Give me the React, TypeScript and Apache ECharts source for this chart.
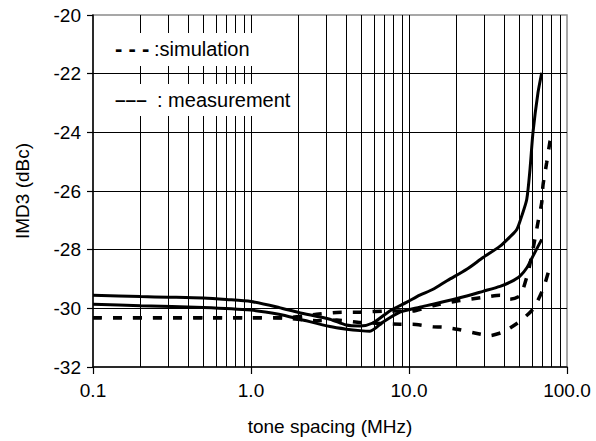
import React, { useEffect, useRef } from "react";
import * as echarts from "echarts";

const FONT = "'Liberation Sans', Arial, sans-serif";

const xMin = 0.1;
const xMax = 100;
const yMin = -32;
const yMax = -20;
const yStep = 2;

const xTickValues = [0.1, 1, 10, 100];
const xTickLabels = ["0.1", "1.0", "10.0", "100.0"];

// vertical gridlines (log decades)
const xGridValues = [
  0.2, 0.3, 0.4, 0.5, 0.6, 0.7, 0.8, 0.9, 1,
  2, 3, 4, 5, 6, 7, 8, 9, 10,
  20, 30, 40, 50, 60, 70, 80, 90,
];

// measurement, curve rising steeply to -22
const measHigh: [number, number][] = [
  [0.1, -29.55], [0.2, -29.6], [0.3, -29.62], [0.5, -29.65], [0.7, -29.7],
  [1.0, -29.77], [1.5, -29.97], [2.0, -30.14], [3.16, -30.37], [4.0, -30.57],
  [4.9, -30.6], [5.9, -30.5], [7.6, -30.08], [9.7, -29.79], [11.7, -29.55],
  [14.2, -29.35], [17.5, -29.05], [23.2, -28.67], [29.4, -28.27], [37.7, -27.88],
  [43.6, -27.56], [48.1, -27.31], [51.7, -26.85], [55.6, -26.29], [58.3, -25.27],
  [60.9, -24.01], [65.5, -22.65], [69.2, -21.97],
];

// measurement, curve ending near -27.6
const measLow: [number, number][] = [
  [0.1, -29.86], [0.2, -29.91], [0.5, -29.97], [1.0, -30.06], [1.5, -30.2],
  [2.04, -30.37], [3.16, -30.62], [4.03, -30.71], [4.9, -30.76], [5.66, -30.78],
  [6.84, -30.47], [8.77, -30.13], [11.7, -29.96], [14.2, -29.86], [23.2, -29.58],
  [29.4, -29.42], [37.7, -29.25], [44, -29.1], [50.4, -28.9], [56, -28.6],
  [60.9, -28.22], [69.2, -27.65],
];

// simulation, curve rising to about -24.2
const simHigh: [number, number][] = [
  [0.1, -30.32], [1.0, -30.32], [1.6, -30.32], [2.2, -30.26], [2.6, -30.2],
  [3.49, -30.14], [4.9, -30.13], [7.58, -30.09], [10.2, -30.1], [14.2, -29.91],
  [20.1, -29.75], [29.4, -29.63], [37.7, -29.55], [43.6, -29.69], [50.0, -29.59],
  [52.7, -29.35], [56.7, -28.77], [60.9, -27.99], [65.5, -27.07], [69.2, -26.39],
  [70.5, -25.8], [74.4, -25.03], [78.0, -24.31], [79.2, -24.18],
];

// simulation, curve with minimum near -30.9
const simLow: [number, number][] = [
  [0.1, -30.32], [1.0, -30.32], [1.6, -30.33], [2.6, -30.42], [3.49, -30.4],
  [4.9, -30.48], [8.8, -30.54], [10.5, -30.54], [14.2, -30.63], [16.4, -30.64],
  [20.1, -30.71], [26.0, -30.84], [32.6, -30.93], [39.4, -30.81], [43.6, -30.67],
  [50.4, -30.44], [60.9, -30.03], [70.5, -29.35], [76.9, -28.7], [78.0, -28.6],
];

const legendSimMark = "- - -";
const legendSimText = ":simulation";
const legendMeasMark = "–––";
const legendMeasText = ": measurement";
const xName = "tone spacing (MHz)";
const yName = "IMD3 (dBc)";

export default function App() {
  const ref = useRef<HTMLDivElement>(null);
  useEffect(() => {
    const chart = echarts.init(ref.current!, null, { renderer: "svg" });
    const solid = (data: [number, number][]) => ({
      type: "line",
      data,
      showSymbol: false,
      symbol: "none",
      smooth: 0.25,
      z: 5,
      lineStyle: { color: "#000", width: 3, type: "solid" },
    });
    const dashed = (data: [number, number][]) => ({
      type: "line",
      data,
      showSymbol: false,
      symbol: "none",
      smooth: 0.2,
      z: 4,
      lineStyle: { color: "#000", width: 3.5, type: [9, 11] },
    });
    const txt = (x: number, y: number, text: string, size: number, weight = "normal") => ({
      type: "text",
      z: 21,
      x,
      y,
      style: {
        text,
        fontFamily: FONT,
        fontSize: size,
        fontWeight: weight,
        fill: "#000",
        verticalAlign: "middle",
        align: "left",
      },
    });
    chart.setOption({
      animation: false,
      backgroundColor: "#fff",
      textStyle: { fontFamily: FONT },
      grid: {
        left: 93,
        right: 29,
        top: 15,
        bottom: 73,
        show: true,
        borderColor: "#8a8a8a",
        borderWidth: 1.5,
        backgroundColor: "transparent",
      },
      xAxis: {
        type: "log",
        logBase: 10,
        min: xMin,
        max: xMax,
        name: xName,
        nameLocation: "middle",
        nameGap: 50,
        nameTextStyle: { fontFamily: FONT, fontSize: 19, color: "#000" },
        axisLine: { show: true, lineStyle: { color: "#000", width: 1.5 } },
        axisTick: { show: true, inside: false, length: 7, lineStyle: { color: "#000", width: 1.2 } },
        axisLabel: {
          fontFamily: FONT,
          fontSize: 19,
          color: "#000",
          margin: 14,
          formatter: (v: number) => {
            const idx = xTickValues.findIndex((t) => Math.abs(t - v) < 1e-6 * Math.max(1, v));
            return idx >= 0 ? xTickLabels[idx] : "";
          },
        },
        splitLine: { show: false },
        minorTick: { show: false },
      },
      yAxis: {
        type: "value",
        min: yMin,
        max: yMax,
        interval: yStep,
        name: yName,
        nameLocation: "middle",
        nameGap: 61,
        nameTextStyle: { fontFamily: FONT, fontSize: 19, color: "#000" },
        axisLine: { show: true, lineStyle: { color: "#000", width: 1.5 } },
        axisTick: { show: true, inside: false, length: 6, lineStyle: { color: "#000", width: 1.2 } },
        axisLabel: { fontFamily: FONT, fontSize: 19, color: "#000", margin: 12 },
        splitLine: {
          show: true,
          showMinLine: false,
          showMaxLine: false,
          lineStyle: { color: "#000", width: 1 },
        },
      },
      graphic: [
        { type: "rect", z: 20, shape: { x: 100, y: 33, width: 168, height: 33 }, style: { fill: "#fff" } },
        { type: "rect", z: 20, shape: { x: 100, y: 84, width: 194, height: 32 }, style: { fill: "#fff" } },
        txt(115, 48, legendSimMark, 22, "bold"),
        txt(154, 49, legendSimText, 20),
        txt(115, 99, legendMeasMark, 19, "bold"),
        txt(157, 100, legendMeasText, 20),
      ],
      series: [
        {
          type: "line",
          data: [],
          z: 1,
          silent: true,
          markLine: {
            silent: true,
            symbol: ["none", "none"],
            label: { show: false },
            animation: false,
            lineStyle: { color: "#000", width: 1, type: "solid" },
            data: xGridValues.map((v) => ({ xAxis: v })),
          },
        },
        dashed(simHigh),
        dashed(simLow),
        solid(measHigh),
        solid(measLow),
      ],
    });
    return () => chart.dispose();
  }, []);
  return <div ref={ref} style={{ position: "absolute", left: 0, top: 0, width: 596, height: 441 }} />;
}
